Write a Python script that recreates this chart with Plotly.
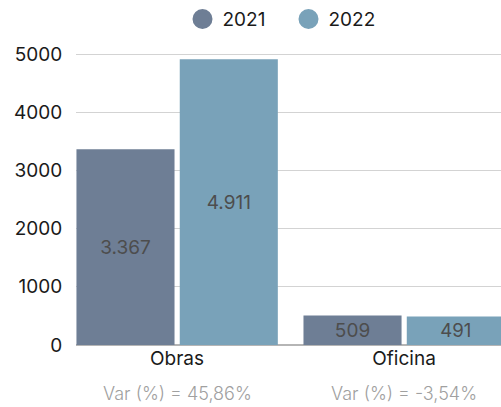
import plotly.graph_objects as go

categories = ["Obras", "Oficina"]
series_names = ["2021", "2022"]
values_2021 = [3367, 509]
values_2022 = [4911, 491]
y_ticks = [0, 1000, 2000, 3000, 4000, 5000]

colors = {"2021": "#6E7E95", "2022": "#79A2B9"}
FONT = "Inter, Liberation Sans, Arial, sans-serif"

fig = go.Figure()
offsets = {"2021": -0.443, "2022": 0.012}
for name, vals in zip(series_names, [values_2021, values_2022]):
    fig.add_trace(go.Bar(
        x=categories, y=vals, name=name,
        marker=dict(color=colors[name], line=dict(width=0)),
        width=0.432, offset=offsets[name],
        texttemplate="%{y:,}", textposition="inside", insidetextanchor="middle",
        textfont=dict(color="#4d4d4d", size=19, family=FONT),
        showlegend=False, hoverinfo="skip",
    ))
    # legend entry with circular marker
    fig.add_trace(go.Scatter(
        x=[None], y=[None], mode="markers", name=name,
        marker=dict(symbol="circle", size=16, color=colors[name],
                    line=dict(color=colors[name], width=4)),
        showlegend=True,
    ))

# variation annotations
for i, cat in enumerate(categories):
    var = (values_2022[i] / values_2021[i] - 1) * 100
    txt = f"Var (%) = {var:.2f}%".replace(".", ",")
    fig.add_annotation(
        x=cat, xref="x", y=-0.157, yref="paper", yanchor="middle",
        text=txt, showarrow=False,
        font=dict(color="#a0a0a0", size=18, family=FONT, weight=300),
    )

fig.update_layout(
    width=501, height=407,
    margin=dict(l=76, r=0, t=39, b=62),
    paper_bgcolor="white", plot_bgcolor="white",
    separators=",.",
    font=dict(family=FONT, color="#1a1a1a", size=19),
    barmode="group",
    legend=dict(orientation="h", x=0.5, xanchor="center", y=1.065, yanchor="middle",
                font=dict(size=19, color="#1a1a1a"), itemsizing="trace",
                entrywidth=61, tracegroupgap=0),
    xaxis=dict(range=[-0.445, 1.427], showgrid=False, showline=False,
               ticks="", ticklabelstandoff=0,
               tickfont=dict(size=19, color="#1a1a1a")),
    yaxis=dict(range=[0, 5260], tickvals=y_ticks, showgrid=True,
               gridcolor="#d3d3d3", gridwidth=1,
               zeroline=True, zerolinecolor="#b5b5b5", zerolinewidth=2,
               ticks="outside", ticklen=9, tickcolor="rgba(0,0,0,0)",
               tickfont=dict(size=19, color="#1a1a1a")),
)

fig.write_html("out.html", config={"displayModeBar": False},
               post_script="document.body.style.margin='0';")
